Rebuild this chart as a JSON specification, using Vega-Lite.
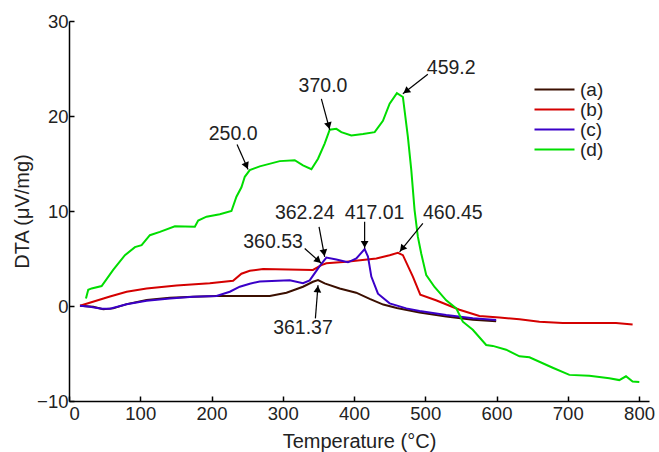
{
  "$schema": "https://vega.github.io/schema/vega-lite/v6.json",
  "width": 580,
  "height": 380,
  "autosize": "none",
  "padding": {"left": 69, "top": 21, "right": 10, "bottom": 51},
  "background": "white",
  "config": {
    "view": {"stroke": null},
    "font": "Liberation Sans",
    "axis": {"grid": false, "domainColor": "black", "tickColor": "black", "domainWidth": 1.5, "tickWidth": 1.5, "labelColor": "#222", "titleColor": "#222", "labelFontSize": 18.5, "titleFontSize": 20, "titleFontWeight": "normal"}
  },
  "datasets": {
    "curves": [
      {"s":"(a)","t":15.4,"v":0.03},{"s":"(a)","t":34,"v":-0.07},{"s":"(a)","t":48,"v":-0.35},{"s":"(a)","t":62,"v":-0.25},{"s":"(a)","t":81,"v":0.2},{"s":"(a)","t":109,"v":0.63},{"s":"(a)","t":141.6,"v":0.87},{"s":"(a)","t":174.2,"v":0.98},{"s":"(a)","t":207,"v":1.05},{"s":"(a)","t":253.7,"v":1.05},{"s":"(a)","t":281.8,"v":1.05},{"s":"(a)","t":305.2,"v":1.4},{"s":"(a)","t":328.4,"v":2.03},{"s":"(a)","t":342.4,"v":2.55},{"s":"(a)","t":349.5,"v":2.73},{"s":"(a)","t":358.8,"v":2.38},{"s":"(a)","t":379.9,"v":1.85},{"s":"(a)","t":403,"v":1.4},{"s":"(a)","t":422,"v":0.75},{"s":"(a)","t":441,"v":0.15},{"s":"(a)","t":460,"v":-0.2},{"s":"(a)","t":492,"v":-0.68},{"s":"(a)","t":529.4,"v":-1.1},{"s":"(a)","t":566.7,"v":-1.45},{"s":"(a)","t":599.5,"v":-1.6},
      {"s":"(b)","t":15.4,"v":0.03},{"s":"(b)","t":57.5,"v":1.0},{"s":"(b)","t":80.9,"v":1.5},{"s":"(b)","t":108.9,"v":1.85},{"s":"(b)","t":150.9,"v":2.15},{"s":"(b)","t":197.6,"v":2.4},{"s":"(b)","t":230.3,"v":2.65},{"s":"(b)","t":242,"v":3.4},{"s":"(b)","t":253.7,"v":3.7},{"s":"(b)","t":272.4,"v":3.9},{"s":"(b)","t":342.4,"v":3.8},{"s":"(b)","t":354.2,"v":4.3},{"s":"(b)","t":361.2,"v":4.5},{"s":"(b)","t":389.3,"v":4.65},{"s":"(b)","t":431.3,"v":5.0},{"s":"(b)","t":450,"v":5.35},{"s":"(b)","t":461.6,"v":5.6},{"s":"(b)","t":468.6,"v":5.35},{"s":"(b)","t":482.6,"v":3.1},{"s":"(b)","t":493,"v":1.2},{"s":"(b)","t":515,"v":0.6},{"s":"(b)","t":548,"v":-0.4},{"s":"(b)","t":576,"v":-1.05},{"s":"(b)","t":604,"v":-1.2},{"s":"(b)","t":632.2,"v":-1.4},{"s":"(b)","t":660.2,"v":-1.65},{"s":"(b)","t":692.9,"v":-1.8},{"s":"(b)","t":767.7,"v":-1.8},{"s":"(b)","t":791,"v":-1.96},
      {"s":"(c)","t":15.4,"v":0.03},{"s":"(c)","t":29.4,"v":-0.07},{"s":"(c)","t":45.8,"v":-0.3},{"s":"(c)","t":57.5,"v":-0.28},{"s":"(c)","t":80.9,"v":0.18},{"s":"(c)","t":108.9,"v":0.56},{"s":"(c)","t":141.6,"v":0.8},{"s":"(c)","t":174.2,"v":0.98},{"s":"(c)","t":207,"v":1.05},{"s":"(c)","t":225.7,"v":1.5},{"s":"(c)","t":239.7,"v":2.03},{"s":"(c)","t":253.7,"v":2.35},{"s":"(c)","t":267.7,"v":2.58},{"s":"(c)","t":309.8,"v":2.7},{"s":"(c)","t":328.4,"v":2.4},{"s":"(c)","t":337.8,"v":2.7},{"s":"(c)","t":351.8,"v":4.2},{"s":"(c)","t":361.2,"v":5.1},{"s":"(c)","t":375.2,"v":4.9},{"s":"(c)","t":391.5,"v":4.6},{"s":"(c)","t":403.3,"v":5.0},{"s":"(c)","t":414.9,"v":6.0},{"s":"(c)","t":419.6,"v":5.2},{"s":"(c)","t":424.3,"v":3.1},{"s":"(c)","t":433.6,"v":1.3},{"s":"(c)","t":450,"v":0.28},{"s":"(c)","t":473.4,"v":-0.25},{"s":"(c)","t":492,"v":-0.53},{"s":"(c)","t":529.4,"v":-0.95},{"s":"(c)","t":566.7,"v":-1.3},{"s":"(c)","t":599.5,"v":-1.47},
      {"s":"(d)","t":23.8,"v":0.8},{"s":"(d)","t":27,"v":1.7},{"s":"(d)","t":31.8,"v":1.85},{"s":"(d)","t":45.8,"v":2.1},{"s":"(d)","t":62,"v":3.8},{"s":"(d)","t":78.5,"v":5.35},{"s":"(d)","t":92.5,"v":6.2},{"s":"(d)","t":101.9,"v":6.4},{"s":"(d)","t":113.5,"v":7.45},{"s":"(d)","t":127.6,"v":7.8},{"s":"(d)","t":148.6,"v":8.4},{"s":"(d)","t":176.6,"v":8.35},{"s":"(d)","t":181.3,"v":9.0},{"s":"(d)","t":193,"v":9.4},{"s":"(d)","t":211.7,"v":9.65},{"s":"(d)","t":228,"v":10.0},{"s":"(d)","t":235,"v":11.5},{"s":"(d)","t":242,"v":12.5},{"s":"(d)","t":246.7,"v":13.6},{"s":"(d)","t":253.7,"v":14.3},{"s":"(d)","t":267.7,"v":14.7},{"s":"(d)","t":295.8,"v":15.25},{"s":"(d)","t":316.8,"v":15.35},{"s":"(d)","t":328.4,"v":14.8},{"s":"(d)","t":340.2,"v":14.4},{"s":"(d)","t":349.5,"v":15.5},{"s":"(d)","t":358.8,"v":17.1},{"s":"(d)","t":365.9,"v":18.55},{"s":"(d)","t":375.2,"v":18.65},{"s":"(d)","t":382.2,"v":18.3},{"s":"(d)","t":396.2,"v":17.95},{"s":"(d)","t":412.6,"v":18.1},{"s":"(d)","t":429,"v":18.3},{"s":"(d)","t":440.6,"v":19.5},{"s":"(d)","t":450,"v":21.3},{"s":"(d)","t":460.2,"v":22.4},{"s":"(d)","t":468.6,"v":22.0},{"s":"(d)","t":475.6,"v":17.8},{"s":"(d)","t":480.4,"v":14.3},{"s":"(d)","t":485,"v":10.1},{"s":"(d)","t":489.6,"v":7.3},{"s":"(d)","t":494.4,"v":5.5},{"s":"(d)","t":501.4,"v":3.25},{"s":"(d)","t":513,"v":2.0},{"s":"(d)","t":529.4,"v":0.6},{"s":"(d)","t":543.5,"v":-0.25},{"s":"(d)","t":552.7,"v":-1.65},{"s":"(d)","t":566.7,"v":-2.5},{"s":"(d)","t":585.5,"v":-4.1},{"s":"(d)","t":594.8,"v":-4.2},{"s":"(d)","t":613.5,"v":-4.6},{"s":"(d)","t":632.2,"v":-5.3},{"s":"(d)","t":646.2,"v":-5.4},{"s":"(d)","t":678.9,"v":-6.5},{"s":"(d)","t":702.3,"v":-7.25},{"s":"(d)","t":730.3,"v":-7.35},{"s":"(d)","t":758.3,"v":-7.6},{"s":"(d)","t":772.3,"v":-7.8},{"s":"(d)","t":781.7,"v":-7.4},{"s":"(d)","t":791,"v":-7.95},{"s":"(d)","t":800.4,"v":-8.0}
    ],
    "notes": [
      {"label":"250.0","tx":230.3,"ty":18.14,"x1":235.9,"y1":17.0,"x2":251.3,"y2":14.36,"hx":249.1,"hy":14.75,"angle":156.5},
      {"label":"370.0","tx":356.5,"ty":23.2,"x1":354.2,"y1":21.8,"x2":365.9,"y2":18.55,"hx":364.5,"hy":18.97,"angle":165},
      {"label":"459.2","tx":536.4,"ty":25.1,"x1":503.6,"y1":24.4,"x2":468.6,"y2":22.35,"hx":473.1,"hy":22.6,"angle":232.3},
      {"label":"362.24","tx":330.8,"ty":9.74,"x1":350.9,"y1":8.33,"x2":358.8,"y2":5.18,"hx":357.9,"hy":5.59,"angle":169.2},
      {"label":"360.53","tx":286.4,"ty":6.75,"x1":330.8,"y1":6.06,"x2":354.2,"y2":4.49,"hx":350.0,"hy":4.77,"angle":131.9},
      {"label":"417.01","tx":428.9,"ty":9.74,"x1":414.9,"y1":8.86,"x2":414.9,"y2":6.06,"hx":414.9,"hy":6.48,"angle":180},
      {"label":"460.45","tx":538.7,"ty":9.74,"x1":496.6,"y1":8.69,"x2":464,"y2":5.7,"hx":467.5,"hy":6.03,"angle":219.4},
      {"label":"361.37","tx":328.4,"ty":-2.35,"x1":345.8,"y1":-1.3,"x2":349.5,"y2":2.2,"hx":349.0,"hy":1.79,"angle":4.5}
    ]
  },
  "layer": [
    {
      "data": {"name": "curves"},
      "mark": {"type": "line", "strokeWidth": 2, "clip": true},
      "encoding": {
        "x": {"field": "t", "type": "quantitative", "scale": {"domain": [0, 814], "nice": false, "zero": false}, "axis": {"title": "Temperature (°C)", "values": [0,100,200,300,400,500,600,700,800], "tickSize": -5, "labelPadding": 8, "titlePadding": 9}},
        "y": {"field": "v", "type": "quantitative", "scale": {"domain": [-10, 30], "nice": false}, "axis": {"title": "DTA (μV/mg)", "values": [-10,0,10,20,30], "tickSize": -5, "labelPadding": 6, "titlePadding": 4}},
        "color": {"field": "s", "type": "nominal", "scale": {"domain": ["(a)","(b)","(c)","(d)"], "range": ["#3b0f00","#d40000","#3a00c8","#00dd00"]},
          "legend": {"title": null, "orient": "none", "legendX": 476, "legendY": 59, "padding": 0, "symbolType": "M-4,0H4", "symbolSize": 100, "symbolStrokeWidth": 2, "symbolFillColor": "transparent", "labelFontSize": 19, "labelColor": "#222", "labelOffset": 16, "rowPadding": -1}},
        "order": {"field": "t", "type": "quantitative"}
      }
    },
    {
      "data": {"name": "notes"},
      "mark": {"type": "rule", "color": "black", "strokeWidth": 1.2},
      "encoding": {
        "x": {"field": "x1", "type": "quantitative"},
        "y": {"field": "y1", "type": "quantitative"},
        "x2": {"field": "x2"},
        "y2": {"field": "y2"}
      }
    },
    {
      "data": {"name": "notes"},
      "mark": {"type": "point", "shape": "triangle-up", "filled": true, "color": "black", "size": 60, "opacity": 1},
      "encoding": {
        "x": {"field": "hx", "type": "quantitative"},
        "y": {"field": "hy", "type": "quantitative"},
        "angle": {"field": "angle", "type": "quantitative", "scale": null}
      }
    },
    {
      "data": {"name": "notes"},
      "mark": {"type": "text", "fontSize": 19.5, "color": "#222", "align": "center", "baseline": "middle"},
      "encoding": {
        "x": {"field": "tx", "type": "quantitative"},
        "y": {"field": "ty", "type": "quantitative"},
        "text": {"field": "label"}
      }
    }
  ]
}
